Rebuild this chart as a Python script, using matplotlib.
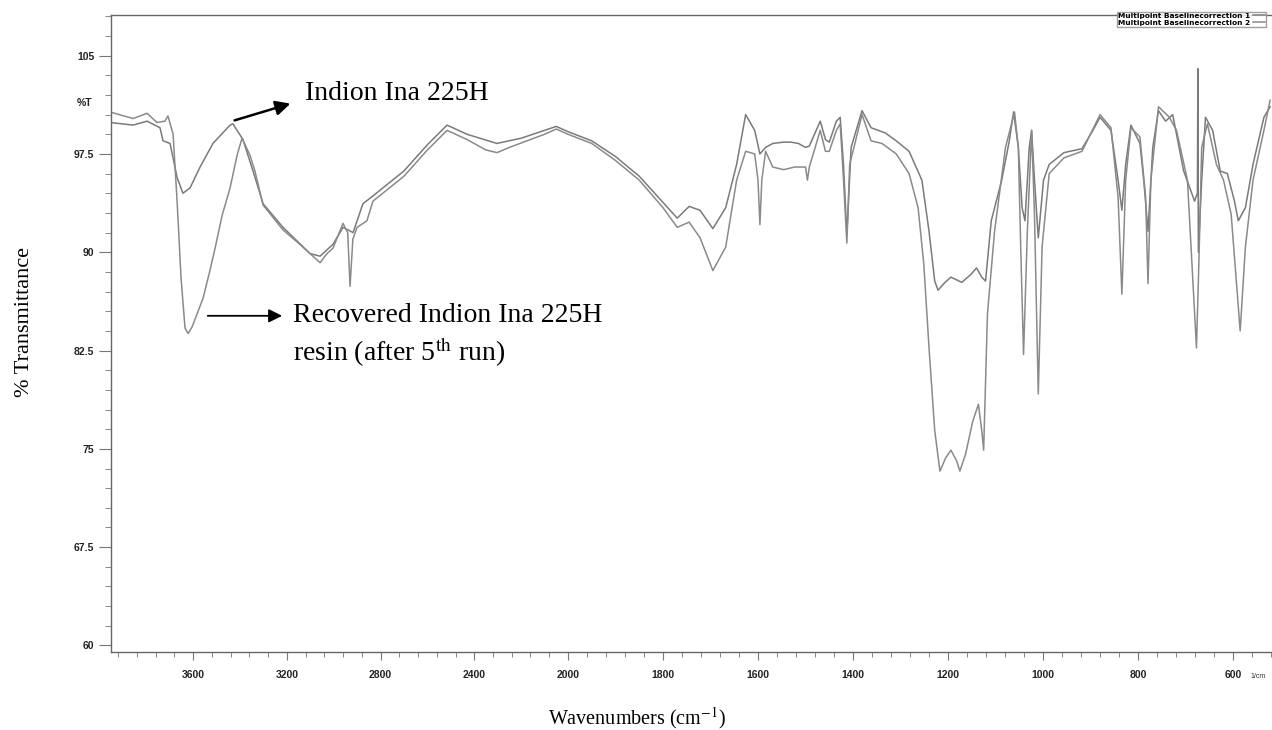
import numpy as np
import matplotlib
matplotlib.use('agg')
import matplotlib.pyplot as plt
import matplotlib.ticker as ticker

plt.rcParams['mathtext.fontset'] = 'stix'

# wavenumbers (cm-1) and %T
fresh_wn = [3954, 3856, 3796, 3741, 3728, 3698, 3668, 3643, 3613, 3570, 3515, 3442, 3430,
            3387, 3344, 3301, 3216, 3101, 3058, 3003, 2960, 2917, 2875, 2832, 2700, 2600,
            2516, 2431, 2303, 2200, 2100, 2050, 2000, 1950, 1900, 1850, 1800, 1770, 1745,
            1722, 1695, 1668, 1645, 1626, 1607, 1596, 1584, 1569, 1546, 1531, 1515, 1500,
            1492, 1469, 1458, 1450, 1435, 1427, 1420, 1413, 1404, 1381, 1362, 1332, 1309,
            1282, 1255, 1240, 1228, 1221, 1209, 1194, 1171, 1152, 1140, 1129, 1121, 1109,
            1087, 1071, 1062, 1052, 1044, 1038, 1029, 1024, 1018, 1010, 999, 987, 956, 918,
            895, 880, 857, 842, 834, 826, 815, 796, 788, 779, 769, 757, 742, 727, 704, 681,
            675, 674, 673, 666, 658, 643, 627, 612, 597, 589, 574, 558, 535, 522]
fresh_t = [99.9, 99.7, 100.0, 99.5, 98.5, 98.3, 95.7, 94.5, 94.9, 96.5, 98.3, 99.7, 99.8,
           98.6, 96.2, 93.7, 91.9, 89.9, 89.7, 90.6, 91.9, 91.5, 93.7, 94.3, 96.2, 98.2,
           99.7, 99.0, 98.3, 98.7, 99.3, 99.6, 99.2, 98.5, 97.3, 95.8, 93.8, 92.6, 93.5,
           93.2, 91.8, 93.4, 96.7, 100.5, 99.3, 97.5, 98.0, 98.3, 98.4, 98.4, 98.3, 98.0,
           98.1, 100.0, 98.6, 98.4, 100.0, 100.3, 96.7, 91.3, 98.0, 100.8, 99.5, 99.1, 98.5,
           97.7, 95.5, 91.6, 87.8, 87.1, 87.6, 88.1, 87.7, 88.3, 88.8, 88.1, 87.8, 92.4,
           95.5, 98.5, 100.7, 98.0, 93.4, 92.4, 98.0, 99.3, 95.5, 91.1, 95.5, 96.7, 97.6, 97.9,
           99.3, 100.3, 99.3, 95.5, 93.2, 96.7, 99.7, 98.3, 95.5, 91.6, 98.0, 100.8, 100.0, 100.5, 96.2, 93.9,
           94.5, 104.0, 90.0, 95.5, 100.3, 99.3, 96.2, 96.0, 93.9, 92.4, 93.4, 96.7, 100.3, 101.1]

recov_wn = [3954, 3856, 3796, 3754, 3720, 3707, 3685, 3668, 3651, 3634, 3621, 3604, 3557,
            3528, 3506, 3476, 3442, 3412, 3391, 3357, 3336, 3301, 3216, 3144, 3058, 3028,
            3003, 2960, 2940, 2930, 2918, 2900, 2858, 2832, 2700, 2600, 2516, 2431, 2350,
            2303, 2250, 2100, 2050, 2000, 1950, 1900, 1850, 1800, 1770, 1745, 1722, 1695,
            1668, 1645, 1626, 1607, 1600, 1596, 1592, 1584, 1569, 1546, 1523, 1500, 1496,
            1492, 1469, 1458, 1450, 1435, 1427, 1420, 1413, 1407, 1381, 1362, 1339, 1309,
            1282, 1263, 1251, 1240, 1228, 1217, 1205, 1194, 1182, 1175, 1163, 1148, 1136,
            1129, 1125, 1117, 1102, 1079, 1060, 1052, 1047, 1041, 1033, 1024, 1018, 1010,
            1002, 987, 956, 918, 880, 857, 842, 834, 826, 815, 796, 784, 779, 773, 757, 734,
            719, 696, 677, 672, 666, 654, 635, 620, 604, 593, 585, 574, 558, 535, 522]
recov_t = [100.7, 100.2, 100.6, 99.9, 100.0, 100.4, 99.0, 93.9, 88.0, 84.2, 83.8, 84.3, 86.5,
           88.6, 90.3, 92.8, 94.9, 97.4, 98.7, 97.4, 96.2, 93.6, 91.7, 90.6, 89.2, 89.9,
           90.3, 92.2, 91.5, 87.4, 91.0, 91.9, 92.4, 93.9, 95.8, 97.8, 99.3, 98.6, 97.8,
           97.6, 98.0, 99.0, 99.4, 99.0, 98.3, 97.0, 95.5, 93.4, 91.9, 92.3, 91.1, 88.6,
           90.4, 95.5, 97.7, 97.5, 95.5, 92.1, 95.5, 97.7, 96.5, 96.3, 96.5, 96.5, 95.5,
           96.5, 99.3, 97.7, 97.7, 99.3, 99.8, 95.5, 90.7, 96.7, 100.5, 98.5, 98.3, 97.5,
           96.0, 93.4, 89.1, 82.7, 76.4, 73.3, 74.3, 74.9, 74.1, 73.3, 74.6, 77.1, 78.4,
           76.4, 74.9, 85.3, 91.6, 98.0, 100.7, 98.0, 90.4, 82.2, 91.6, 99.3, 92.9, 79.2,
           90.4, 96.0, 97.2, 97.7, 100.5, 99.5, 94.2, 86.8, 95.5, 99.5, 98.8, 94.2, 87.6, 95.5, 101.1, 100.3,
           99.3, 95.5, 82.7, 89.1, 98.0, 99.8, 96.7, 95.5, 92.9, 87.8, 84.0, 90.4, 95.5, 99.3, 101.6]

x_major = [3600, 3200, 2800, 2400, 2000, 1800, 1600, 1400, 1200, 1000, 800, 600]
y_major = [60, 67.5, 75, 82.5, 90, 97.5, 105]
y_labels = ['60', '67.5', '75', '82.5', '90', '97.5', '105']

# spectrometer plots above 2000 cm-1 at half scale
K = 2.027
def fwd(w):
    w = np.asarray(w, dtype=float)
    return np.where(w > 2000, 2000 + (w - 2000) / K, w)

def inv(u):
    u = np.asarray(u, dtype=float)
    return np.where(u > 2000, 2000 + (u - 2000) * K, u)

serif = 'Liberation Serif'
sans = 'Liberation Sans'

fig = plt.figure(figsize=(12.72, 7.30), dpi=100)
ax = fig.add_axes([111 / 1272, 1 - 652 / 730, 1 - 111 / 1272, (652 - 15) / 730])
ax.set_xscale('function', functions=(fwd, inv))

l1, = ax.plot(fresh_wn, fresh_t, color='#7a7a7a', lw=1.1)
l2, = ax.plot(recov_wn, recov_t, color='#8a8a8a', lw=1.1)

ax.set_xlim(3950, 518)
ax.set_ylim(59.5, 108.1)

minor_x = list(np.arange(3920, 2000, -80)) + list(np.arange(2000, 518, -40))
ax.xaxis.set_major_locator(ticker.FixedLocator(x_major))
ax.xaxis.set_major_formatter(ticker.FixedFormatter([str(v) for v in x_major]))
ax.xaxis.set_minor_locator(ticker.FixedLocator(minor_x))
ax.xaxis.set_minor_formatter(ticker.NullFormatter())
ax.yaxis.set_major_locator(ticker.FixedLocator(y_major))
ax.yaxis.set_major_formatter(ticker.FixedFormatter(y_labels))
ax.yaxis.set_minor_locator(ticker.FixedLocator(np.arange(58.5, 108.1, 1.5)))

for s in ['left', 'bottom', 'top']:
    ax.spines[s].set_color('#666666')
    ax.spines[s].set_linewidth(1.0)
ax.spines['right'].set_visible(False)

ax.tick_params(axis='x', which='major', direction='out', length=6, width=0.8, color='#777777',
               labelsize=7.5, pad=7)
ax.tick_params(axis='x', which='minor', direction='out', length=3.5, width=0.7, color='#888888')
ax.tick_params(axis='y', which='major', direction='out', length=9, width=0.8, color='#777777',
               labelsize=7.5, pad=3)
ax.tick_params(axis='y', which='minor', direction='out', length=4.5, width=0.7, color='#888888')
for lab in ax.get_xticklabels() + ax.get_yticklabels():
    lab.set_fontfamily(sans)
    lab.set_fontweight('bold')
    lab.set_color('#222222')

ax.text(-0.0164, 101.4, '%T', transform=ax.get_yaxis_transform(), ha='right', va='center',
        fontsize=7.5, fontweight='bold', family=sans, color='#222222')

# labels pointing at the two spectra
ax.annotate('', xy=(3173, 101.4), xytext=(3434, 100.0),
            arrowprops=dict(arrowstyle='-|>', color='black', lw=1.8, mutation_scale=22))
ax.text(3122, 102.1, 'Indion Ina 225H', fontsize=20, family=serif, va='center', ha='left')
ax.annotate('', xy=(3208, 85.15), xytext=(3549, 85.15),
            arrowprops=dict(arrowstyle='-|>', color='black', lw=1.3, mutation_scale=20))
ax.text(3173, 85.15, 'Recovered Indion Ina 225H', fontsize=20, family=serif, va='center', ha='left')
ax.text(3173, 82.4, 'resin (after 5$^{\\mathrm{th}}$ run)', fontsize=20, family=serif,
        va='center', ha='left')

fig.text(25 / 1272, 1 - 322 / 730, '% Transmittance', rotation=90, ha='center', va='center',
         fontsize=16, family=serif)
fig.text(637 / 1272, 1 - 718 / 730, 'Wavenumbers (cm$^{-1}$)', ha='center',
         va='center', fontsize=14.5, family=serif)
fig.text(1258 / 1272, 1 - 677 / 730, '1/cm', ha='center', va='center', fontsize=5,
         family=sans, color='#333333')

leg = ax.legend([l1, l2], ['Multipoint Baselinecorrection 1', 'Multipoint Baselinecorrection 2'],
                loc='upper right', bbox_to_anchor=(1270 / 1272, 1 - 8 / 730),
                bbox_transform=fig.transFigure, fontsize=5.3, markerfirst=False,
                handlelength=1.6, handletextpad=0.4, borderpad=0.15, labelspacing=0.1,
                frameon=True, fancybox=False, edgecolor='#888888')
for t in leg.get_texts():
    t.set_fontweight('bold')

fig.savefig('out.png', dpi=100)
